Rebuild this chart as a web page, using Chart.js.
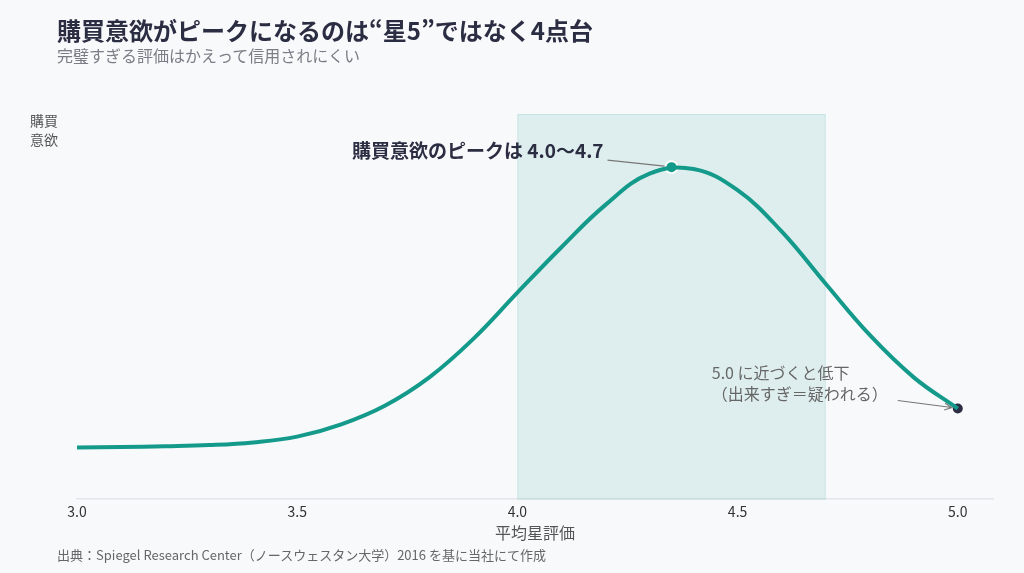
<!DOCTYPE html>
<html lang="ja">
<head>
<meta charset="utf-8">
<script src="https://cdn.jsdelivr.net/npm/chart.js@4"></script>
<style>
  html, body { margin: 0; padding: 0; background: #f8f9fb; }
  body { width: 1024px; height: 573px; position: relative; overflow: hidden;
         font-family: "Noto Sans CJK JP", "Noto Sans", sans-serif; }
  #wrap { position: absolute; left: 0; top: 0; width: 1024px; height: 573px; }
  .t { position: absolute; white-space: nowrap; }
  #title { left: 57px; top: 13px; font-size: 24px; font-weight: 700; color: #2b2d42; line-height: 34px; }
  #sub { left: 57px; top: 44px; font-size: 16px; color: #7a7d85; line-height: 22px; }
  #ylab { left: 30px; top: 111px; font-size: 14px; color: #555; line-height: 19px; text-align: center; }
  #note { left: 57px; top: 546px; font-size: 13px; color: #666; line-height: 18px; }
</style>
</head>
<body>
<div id="wrap"><canvas id="graph"></canvas></div>
<div class="t" id="title">購買意欲がピークになるのは“星5”ではなく4点台</div>
<div class="t" id="sub">完璧すぎる評価はかえって信用されにくい</div>
<div class="t" id="ylab">購買<br>意欲</div>
<div class="t" id="note">出典：Spiegel Research Center（ノースウェスタン大学）2016 を基に当社にて作成</div>
<script>
// star rating vs purchase intent
const ratings = [3.0, 3.1, 3.2, 3.3, 3.4, 3.5, 3.6, 3.7, 3.8, 3.9, 4.0, 4.1, 4.2, 4.3, 4.4, 4.5, 4.6, 4.7, 4.8, 4.9, 5.0];
const intent  = [13.4, 13.5, 13.7, 14.0, 14.7, 16.2, 19.4, 24.3, 31.6, 41.6, 53.6, 65.4, 76.4, 84.5, 85.7, 80.2, 69.5, 55.9, 42.6, 31.6, 23.5];
const tickVals = [3.0, 3.5, 4.0, 4.5, 5.0];
const peakBand = [4.0, 4.7];
const peakPoint = [4.35, 86.2];
const endPoint = [5.0, 23.5];
const peakLabel = '購買意欲のピークは 4.0〜4.7';
const endLabel = ['5.0 に近づくと低下', '（出来すぎ＝疑われる）'];

const teal = '#149a8a';
const navy = '#2b2d42';
const font = '"Noto Sans CJK JP", "Noto Sans", sans-serif';

const bandPlugin = {
    id: 'band',
    beforeDatasetsDraw(chart) {
        const {ctx, chartArea, scales} = chart;
        const x1 = scales.x.getPixelForValue(peakBand[0]);
        const x2 = scales.x.getPixelForValue(peakBand[1]);
        ctx.save();
        ctx.fillStyle = 'rgba(20,154,138,0.11)';
        ctx.fillRect(x1, chartArea.top, x2 - x1, chartArea.bottom - chartArea.top);
        ctx.strokeStyle = 'rgba(20,154,138,0.12)';
        ctx.lineWidth = 1;
        ctx.strokeRect(x1 + 0.5, chartArea.top + 0.5, x2 - x1 - 1, chartArea.bottom - chartArea.top);
        ctx.restore();
    }
};

const notesPlugin = {
    id: 'notes',
    afterDatasetsDraw(chart) {
        const {ctx, scales} = chart;
        // peak note
        let px = scales.x.getPixelForValue(peakPoint[0]);
        let py = scales.y.getPixelForValue(peakPoint[1]);
        ctx.save();
        ctx.strokeStyle = '#777';
        ctx.lineWidth = 1.2;
        ctx.beginPath();
        ctx.moveTo(px - 64, py - 7);
        ctx.lineTo(px - 7, py - 1);
        ctx.stroke();
        ctx.font = 'bold 19px ' + font;
        ctx.fillStyle = navy;
        ctx.textAlign = 'right';
        ctx.textBaseline = 'middle';
        ctx.fillText(peakLabel, px - 68, py - 16);

        // end note
        px = scales.x.getPixelForValue(endPoint[0]);
        py = scales.y.getPixelForValue(endPoint[1]);
        ctx.font = '16px ' + font;
        ctx.fillStyle = '#666';
        ctx.textAlign = 'left';
        ctx.fillText(endLabel[0], px - 246, py - 36);
        ctx.fillText(endLabel[1], px - 246, py - 15);
        const sx = px - 60, sy = py - 8, ex = px - 6, ey = py - 1;
        ctx.beginPath();
        ctx.moveTo(sx, sy);
        ctx.lineTo(ex, ey);
        const a = Math.atan2(ey - sy, ex - sx);
        ctx.moveTo(ex - 8 * Math.cos(a - 0.45), ey - 8 * Math.sin(a - 0.45));
        ctx.lineTo(ex, ey);
        ctx.lineTo(ex - 8 * Math.cos(a + 0.45), ey - 8 * Math.sin(a + 0.45));
        ctx.stroke();
        ctx.restore();
    }
};

new Chart(
    document.querySelector('#graph'),
{
    type: 'line',
    data: {
        datasets: [{
            label: '購買意欲',
            data: ratings.map((r, i) => ({x: r, y: intent[i]})),
            borderColor: teal,
            borderWidth: 4,
            radius: 0,
            fill: false,
            tension: 0.4
        },
        {
            label: 'peak',
            data: [{x: peakPoint[0], y: peakPoint[1]}],
            pointRadius: 6,
            pointBackgroundColor: teal,
            pointBorderColor: '#ffffff',
            pointBorderWidth: 2,
            showLine: false
        },
        {
            label: 'end',
            data: [{x: endPoint[0], y: endPoint[1]}],
            pointRadius: 5,
            pointBackgroundColor: navy,
            pointBorderColor: navy,
            pointBorderWidth: 0,
            showLine: false
        }]
    },
    options: {
        responsive: true,
        maintainAspectRatio: false,
        animation: false,
        layout: {
            padding: {left: 77, right: 31, top: 114, bottom: 30}
        },
        plugins: {
            legend: {display: false},
            tooltip: {enabled: false}
        },
        scales: {
            x: {
                type: 'linear',
                min: 3.0,
                max: 5.08,
                afterBuildTicks: axis => { axis.ticks = tickVals.map(v => ({value: v})); },
                grid: {display: false, drawTicks: false},
                border: {display: true, color: '#e4e6ea', width: 1.5},
                ticks: {
                    padding: 4,
                    color: '#333',
                    font: {family: font, size: 14},
                    callback: v => v.toFixed(1)
                },
                title: {
                    display: true,
                    text: '平均星評価',
                    color: '#555',
                    font: {family: font, size: 16},
                    padding: {top: 0, bottom: 0}
                }
            },
            y: {
                min: 0,
                max: 100,
                display: false
            }
        }
    },
    plugins: [bandPlugin, notesPlugin]
});
</script>
</body>
</html>
